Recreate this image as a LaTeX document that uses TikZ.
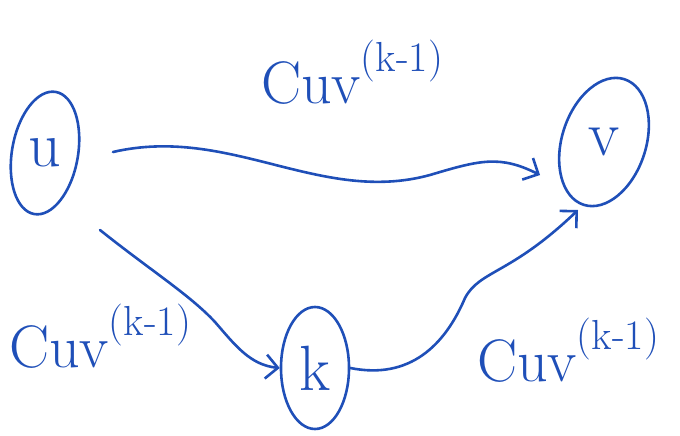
\documentclass[tikz,border=0pt]{standalone}
\usetikzlibrary{shapes.geometric, arrows.meta, positioning}
\definecolor{penBlue}{HTML}{1F4FB8}
\newcommand{\wgt}{Cuv\raisebox{32pt}{\fontsize{42}{42}\selectfont(k-1)}}

\begin{document}
\begin{tikzpicture}[x=1pt, y=-1pt, line width=2.6pt, penBlue,
        vert/.style={draw=penBlue, ellipse, text=penBlue, font=\fontsize{64}{64}\selectfont, inner sep=0pt},
        link/.style={draw=penBlue, line cap=round, -{Straight Barb[length=12pt, width=24pt]}},
        lbl/.style={text=penBlue, font=\fontsize{60}{60}\selectfont, inner sep=0pt}]
        \useasboundingbox (0,0) rectangle (680,436);
        % vertices
        \node[vert, minimum width=66, minimum height=124, rotate=-10] (u) at (45,153) {\rotatebox{10}{u}};
        \node[vert, minimum width=84, minimum height=132, rotate=-18] (v) at (604,142) {\rotatebox{18}{v}};
        \node[vert, minimum width=68, minimum height=122] (k) at (315,368) {k};
        % paths
        \draw[link] ([shift={(68,-1)}]u.center) .. controls (230,125) and (320,205) .. (430,175)
          .. controls (480,160) and (500,155) .. ([shift={(-64,33)}]v.center);
        \draw[link] ([shift={(55,77)}]u.center) .. controls (150,270) and (190,295) .. (215,322)
          .. controls (235,345) and (250,365) .. (k.west);
        \draw[link] (k.east) .. controls (410,380) and (445,345) .. (465,298)
          .. controls (480,270) and (510,275) .. ([shift={(-26,68)}]v.center);
        % weights
        \node[lbl] (wuv) at (352,72) {\wgt};
        \node[lbl] (wuk) at (100,336) {\wgt};
        \node[lbl] (wkv) at (568,350) {\wgt};
\end{tikzpicture}
\end{document}
